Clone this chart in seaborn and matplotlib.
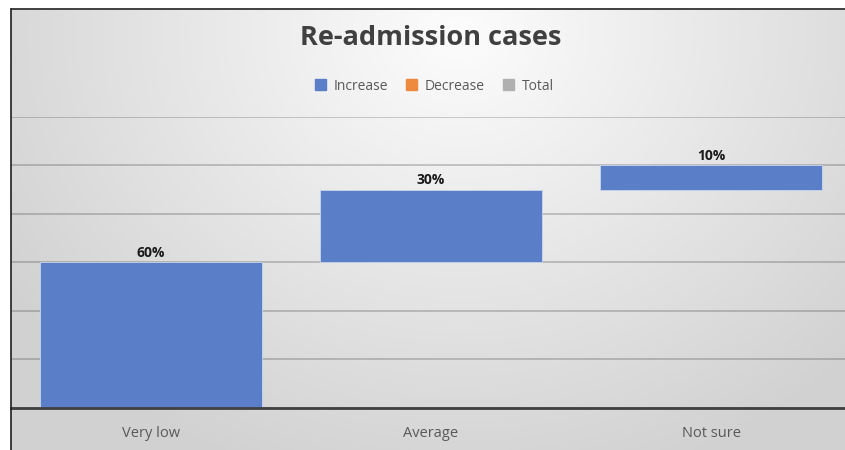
import numpy as np
import pandas as pd
import matplotlib
matplotlib.use("Agg")
import matplotlib.pyplot as plt
import seaborn as sns
from matplotlib.patches import Rectangle
from matplotlib.lines import Line2D

categories = ["Very low", "Average", "Not sure"]
values = [60, 30, 10]
labels = ["60%", "30%", "10%"]
legend_names = ["Increase", "Decrease", "Total"]
legend_colors = ["#5a7fc8", "#ed8a3f", "#b0b0b0"]

bottoms = list(np.cumsum([0] + values[:-1]))
df = pd.DataFrame({"cat": categories, "val": values, "bottom": bottoms})

sns.set_theme(style="white")
plt.rcParams["font.family"] = ["Open Sans", "DejaVu Sans"]

W, H = 845, 450
fig = plt.figure(figsize=(W / 100 + 0.001, H / 100 + 0.001), dpi=100)
fig.patch.set_facecolor("white")

# background gradient panel
bg = fig.add_axes([11 / W, -0.02, (W - 11) / W + 0.05, (H - 10) / H + 0.02], zorder=0)
ny, nx = 220, 420
yy, xx = np.mgrid[0:ny, 0:nx]
cx, cy = 0.51 * nx, 0.05 * ny
d = np.sqrt(((xx - cx) / (0.62 * nx)) ** 2 + ((yy - cy) / (1.05 * ny)) ** 2)
d = np.clip(d, 0, 1)
val = 0.99 - 0.17 * d ** 1.0
img = np.dstack([val, val, val])
bg.imshow(img, aspect="auto", extent=[0, 1, 0, 1], origin="upper")
bg.set_axis_off()

# border lines
fig.add_artist(Line2D([10.5 / W, 10.5 / W], [0, 1 - 9.5 / H], color="#202020", lw=1.2, transform=fig.transFigure))
fig.add_artist(Line2D([10.5 / W, 1], [1 - 9.5 / H, 1 - 9.5 / H], color="#202020", lw=1.2, transform=fig.transFigure))

# main axes: x from 11 to 851 px, y 0 at 408 px, 120 at 117 px
x0, x1 = 11, 851
ytop, ybot = 117, 408
ax = fig.add_axes([x0 / W, (H - ybot) / H, (x1 - x0) / W, (ybot - ytop) / H], zorder=1)
ax.patch.set_alpha(0)

sns.barplot(data=df, x="cat", y="val", bottom=df["bottom"], color=legend_colors[0],
            saturation=1, width=0.79, ax=ax, zorder=3, edgecolor="none")
for p in ax.patches:
    p.set_edgecolor("#c9d6ee")
    p.set_linewidth(0.6)

ax.set_ylim(0, 120)
ax.set_xlim(-0.5, 2.5)
ax.set_yticks([0, 20, 40, 60, 80, 100, 120])
ax.yaxis.grid(True, color="black", alpha=0.22, lw=1.2, zorder=0)
ax.set_axisbelow(True)
ax.set_yticklabels([])
ax.tick_params(axis="y", length=0)
ax.tick_params(axis="x", length=0, pad=13, labelsize=10.5, labelcolor="#595959")
ax.set_xlabel("")
ax.set_ylabel("")
for s in ["top", "right", "left"]:
    ax.spines[s].set_visible(False)
ax.spines["bottom"].set_color("#404040")
ax.spines["bottom"].set_linewidth(2)
ax.spines["bottom"].set_zorder(5)

for i, (b, v, lab) in enumerate(zip(bottoms, values, labels)):
    ax.text(i, b + v + 1.2, lab, ha="center", va="bottom", fontsize=10,
            fontweight="bold", color="#1a1a1a")

# title
fig.text(431 / W, 1 - 38 / H, "Re-admission cases", ha="center", va="center",
         fontsize=19.5, fontweight="bold", color="#404040")

# legend
handles = [Rectangle((0, 0), 1, 1, color=c) for c in legend_colors]
leg = fig.legend(handles, legend_names, loc="center", bbox_to_anchor=(434 / W, 1 - 86 / H),
                 ncol=3, frameon=False, fontsize=10, handlelength=0.8, handleheight=0.8,
                 handletextpad=0.55, columnspacing=1.3, labelcolor="#595959")

fig.savefig("out.png", dpi=100)
